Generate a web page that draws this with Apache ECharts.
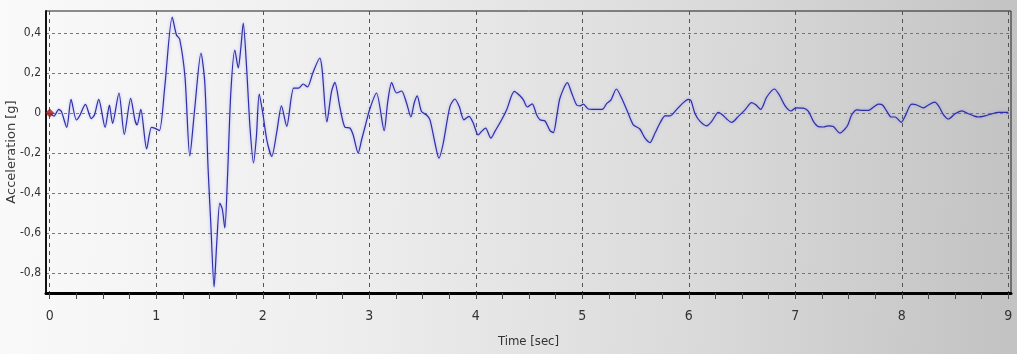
<!DOCTYPE html>
<html>
<head>
<meta charset="utf-8">
<script src="https://cdn.jsdelivr.net/npm/echarts@6/dist/echarts.min.js"></script>
<style>
  html, body { margin: 0; padding: 0; background: #e6e6e6; }
  #chart { width: 1017px; height: 354px; }
</style>
</head>
<body>
<div id="chart"></div>
<script>
// Ground acceleration record: time in seconds, acceleration in g
const time = [
  0, 0.04, 0.085, 0.11, 0.16, 0.20, 0.25, 0.28, 0.335, 0.39,
  0.42, 0.46, 0.52, 0.56, 0.59, 0.65, 0.70, 0.76, 0.80, 0.82,
  0.855, 0.91, 0.955, 0.99, 1.03, 1.08, 1.15, 1.19, 1.22, 1.27,
  1.315, 1.36, 1.42, 1.456, 1.487, 1.512, 1.543, 1.568, 1.597, 1.62,
  1.644, 1.669, 1.70, 1.738, 1.77, 1.795, 1.817, 1.848, 1.88, 1.913,
  1.94, 1.967, 2.0, 2.04, 2.085, 2.13, 2.176, 2.225, 2.29, 2.335,
  2.38, 2.42, 2.47, 2.536, 2.558, 2.602, 2.646, 2.677, 2.724, 2.77,
  2.818, 2.849, 2.896, 2.93, 2.96, 3.005, 3.068, 3.14, 3.172, 3.21,
  3.256, 3.303, 3.35, 3.391, 3.422, 3.45, 3.49, 3.538, 3.57, 3.617,
  3.654, 3.695, 3.757, 3.804, 3.845, 3.889, 3.936, 3.976, 4.023, 4.055,
  4.092, 4.142, 4.18, 4.243, 4.29, 4.362, 4.415, 4.447, 4.484, 4.53,
  4.571, 4.603, 4.65, 4.697, 4.728, 4.76, 4.79, 4.86, 4.9, 4.947,
  4.979, 5.01, 5.057, 5.12, 5.188, 5.23, 5.27, 5.32, 5.37, 5.43,
  5.479, 5.54, 5.589, 5.636, 5.683, 5.73, 5.777, 5.824, 5.887, 5.949,
  5.996, 6.02, 6.059, 6.106, 6.168, 6.215, 6.278, 6.315, 6.356, 6.403,
  6.465, 6.528, 6.59, 6.632, 6.675, 6.732, 6.804, 6.85, 6.904, 6.96,
  7.004, 7.076, 7.123, 7.17, 7.216, 7.263, 7.31, 7.357, 7.419, 7.466,
  7.493, 7.53, 7.578, 7.625, 7.688, 7.735, 7.781, 7.819, 7.86, 7.9,
  7.938, 7.995, 8.03, 8.069, 8.094, 8.141, 8.204, 8.25, 8.307, 8.345,
  8.392, 8.438, 8.5, 8.563, 8.626, 8.673, 8.72, 8.782, 8.845, 8.907,
  9.0
];
const accel = [
  0, -0.015, 0.018, 0.007, -0.072, 0.068, -0.035, -0.015, 0.043, -0.028,
  -0.01, 0.068, -0.072, 0.04, -0.052, 0.10, -0.107, 0.073, -0.035, -0.06,
  0.018, -0.18, -0.072, -0.077, -0.088, 0.13, 0.48, 0.39, 0.37, 0.18,
  -0.215, 0.015, 0.30, 0.15, -0.28, -0.55, -0.87, -0.65, -0.45, -0.48,
  -0.575, -0.32, 0.10, 0.315, 0.225, 0.33, 0.45, 0.23, -0.07, -0.25,
  -0.12, 0.095, 0.0, -0.14, -0.217, -0.10, 0.036, -0.067, 0.124, 0.124,
  0.145, 0.13, 0.2, 0.275, 0.215, -0.045, 0.108, 0.153, 0.03, -0.07,
  -0.075, -0.11, -0.20, -0.13, -0.07, 0.02, 0.10, -0.088, 0.05, 0.152,
  0.10, 0.11, 0.05, -0.02, 0.05, 0.086, 0.008, -0.01, -0.034, -0.15,
  -0.226, -0.15, 0.032, 0.07, 0.032, -0.034, -0.017, -0.05, -0.11, -0.092,
  -0.076, -0.126, -0.092, -0.034, 0.016, 0.108, 0.086, 0.066, 0.03, 0.046,
  -0.009, -0.034, -0.04, -0.088, -0.098, -0.017, 0.074, 0.152, 0.10, 0.04,
  0.036, 0.044, 0.02, 0.018, 0.018, 0.048, 0.066, 0.12, 0.074, 0,
  -0.059, -0.08, -0.126, -0.148, -0.1, -0.05, -0.014, -0.014, 0.018, 0.052,
  0.068, 0.062, -0.004, -0.042, -0.064, -0.042, 0.003, -0.009, -0.03, -0.047,
  -0.017, 0.016, 0.052, 0.04, 0.018, 0.08, 0.12, 0.09, 0.036, 0.01,
  0.026, 0.024, 0.008, -0.042, -0.068, -0.07, -0.064, -0.068, -0.1, -0.08,
  -0.06, -0.009, 0.016, 0.013, 0.013, 0.03, 0.044, 0.04, 0.008, -0.02,
  -0.02, -0.047, -0.017, 0.03, 0.044, 0.04, 0.026, 0.04, 0.054, 0.036,
  -0.009, -0.03, -0.004, 0.011, -0.004, -0.014, -0.02, -0.014, -0.004, 0.003,
  0.003
];

// Cursor marker at the start of the record
const markerTime = [0];
const markerAccel = [0];

// Axis ticks and labels
const xTickValues = [0, 1, 2, 3, 4, 5, 6, 7, 8, 9];
const xMinorStep = 0.25;
const yTickValues = [-0.8, -0.6, -0.4, -0.2, 0, 0.2, 0.4];

const xMinorTicks = [];
for (let i = 0; i <= 36; i++) xMinorTicks.push(+(i * xMinorStep).toFixed(2));

const narrow = "'Liberation Sans Narrow', 'DejaVu Sans Condensed', 'Liberation Sans', sans-serif";

const chart = echarts.init(document.getElementById('chart'), null, { renderer: 'canvas' });

chart.setOption({
  animation: false,
  backgroundColor: new echarts.graphic.LinearGradient(0, 0, 1, 0.15, [
    { offset: 0, color: '#fafafa' },
    { offset: 0.35, color: '#eeeeee' },
    { offset: 0.7, color: '#dadada' },
    { offset: 1, color: '#c3c3c3' }
  ]),
  grid: {
    left: 46, right: 6, top: 11, bottom: 61,
    outerBoundsMode: 'none',
    containLabel: false,
    show: true,
    borderColor: '#1e1e1e',
    borderWidth: 1,
    backgroundColor: 'transparent'
  },
  xAxis: [
    {
      type: 'value',
      min: -0.035,
      max: 9.025,
      name: 'Time [sec]',
      nameLocation: 'middle',
      nameGap: 42,
      nameMoveOverlap: false,
      nameTextStyle: { fontFamily: narrow, fontSize: 13, color: '#333' },
      axisLine: { show: true, onZero: false, lineStyle: { color: '#000', width: 3 } },
      axisTick: { show: false, customValues: xTickValues },
      axisLabel: {
        customValues: xTickValues,
        margin: 16,
        fontFamily: narrow,
        fontSize: 14,
        color: '#333',
        formatter: v => String(v)
      },
      splitLine: {
        show: true,
        lineStyle: { color: '#555', type: [4, 4], width: 1 }
      }
    },
    {
      type: 'value',
      min: -0.035,
      max: 9.025,
      position: 'bottom',
      axisLine: { show: false, onZero: false },
      axisTick: {
        show: true, customValues: xMinorTicks, length: 6,
        lineStyle: { color: '#444', width: 1 }
      },
      axisLabel: { show: false },
      splitLine: { show: false }
    }
  ],
  yAxis: {
    type: 'value',
    min: -0.9,
    max: 0.51,
    name: 'Acceleration [g]',
    nameLocation: 'middle',
    nameRotate: 90,
    nameGap: 28,
    nameMoveOverlap: false,
    nameTextStyle: { fontFamily: "'DejaVu Sans', sans-serif", fontSize: 13, color: '#3a3a3a' },
    axisLine: { show: true, onZero: false, lineStyle: { color: '#111', width: 2 } },
    axisTick: { show: false, customValues: yTickValues },
    axisLabel: {
      customValues: yTickValues,
      margin: 5,
      fontFamily: narrow,
      fontSize: 12,
      color: '#333',
      formatter: v => String(v).replace('.', ',')
    },
    splitLine: {
      show: true,
      lineStyle: { color: '#777', type: [3, 3], width: 1 }
    }
  },
  series: [
    {
      type: 'line',
      data: time.map((t, i) => [t, accel[i]]),
      smooth: 0.25,
      showSymbol: false,
      clip: true,
      lineStyle: {
        color: '#2e2ea6',
        width: 1.2,
        shadowColor: 'rgba(110, 110, 255, 0.55)',
        shadowBlur: 3
      },
      z: 3
    },
    {
      type: 'scatter',
      data: markerTime.map((t, i) => [t, markerAccel[i]]),
      symbol: 'diamond',
      symbolSize: 9,
      itemStyle: { color: '#a31919' },
      z: 4
    }
  ]
});
</script>
</body>
</html>
